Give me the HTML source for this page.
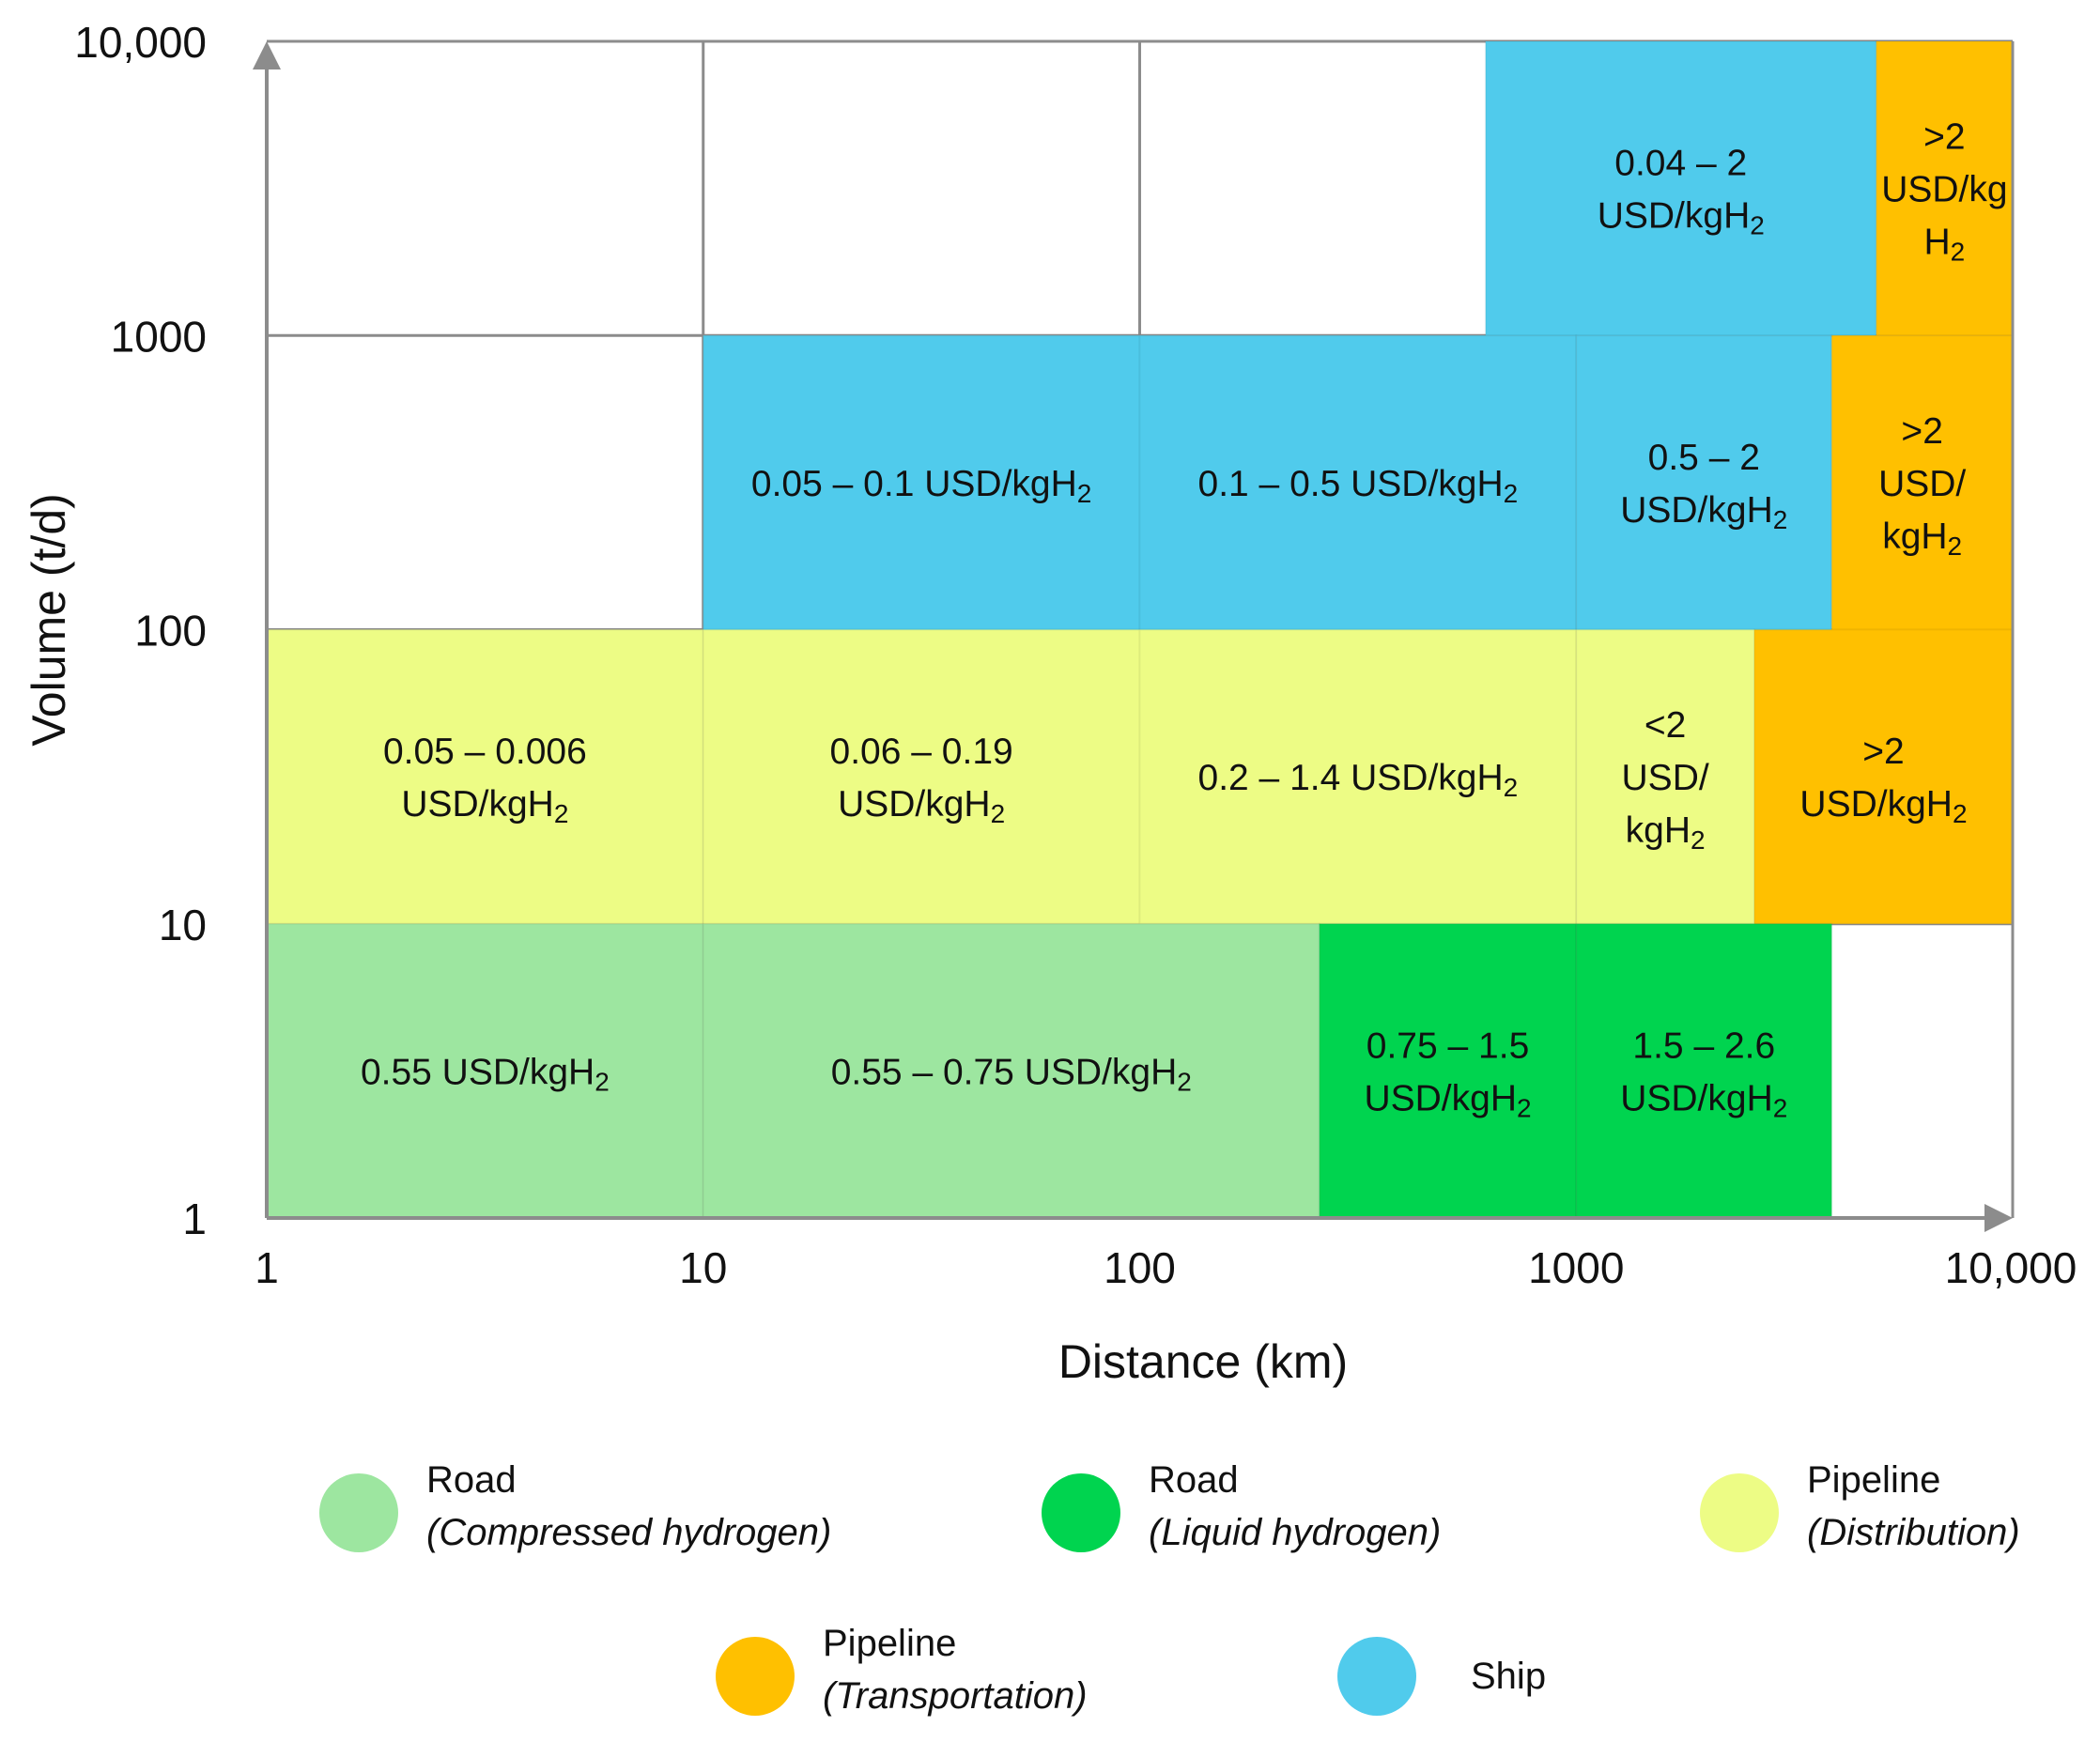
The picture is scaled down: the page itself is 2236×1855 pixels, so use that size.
<!DOCTYPE html>
<html><head><meta charset="utf-8"><style>
html,body{margin:0;padding:0;background:#fff;}
svg{display:block;font-family:"Liberation Sans",sans-serif;}
</style></head><body>
<svg id="chart" width="2236" height="1855" viewBox="0 0 2236 1855" xmlns="http://www.w3.org/2000/svg">
<g id="grid"></g>
<g id="cells"></g>
<g id="axes"></g>
<g id="labels"></g>
<g id="legend"></g>
</svg>
<script>
const xTicks=[1,10,100,1000,10000];
const xTickLabels=["1","10","100","1000","10,000"];
const yTicks=[1,10,100,1000,10000];
const yTickLabels=["1","10","100","1000","10,000"];
// cells: [xFrom, xTo, yFrom, yTo]
const cellRanges=[
 [620,4870,1000,10000],[4870,10000,1000,10000],
 [10,100,100,1000],[100,1000,100,1000],[1000,3850,100,1000],[3850,10000,100,1000],
 [1,10,10,100],[10,100,10,100],[100,1000,10,100],[1000,2560,10,100],[2560,10000,10,100],
 [1,10,1,10],[10,258,1,10],[258,1000,1,10],[1000,3850,1,10]
];
const cellModes=["ship","pipe-t","ship","ship","ship","pipe-t","pipe-d","pipe-d","pipe-d","pipe-d","pipe-t","road-c","road-c","road-l","road-l"];
const cellLabels=[
 ["0.04 – 2","USD/kgH₂"],[">2","USD/kg","H₂"],
 ["0.05 – 0.1 USD/kgH₂"],["0.1 – 0.5 USD/kgH₂"],["0.5 – 2","USD/kgH₂"],[">2","USD/","kgH₂"],
 ["0.05 – 0.006","USD/kgH₂"],["0.06 – 0.19","USD/kgH₂"],["0.2 – 1.4 USD/kgH₂"],["<2","USD/","kgH₂"],[">2","USD/kgH₂"],
 ["0.55 USD/kgH₂"],["0.55 – 0.75 USD/kgH₂"],["0.75 – 1.5","USD/kgH₂"],["1.5 – 2.6","USD/kgH₂"]
];
const modeKeys=["road-c","road-l","pipe-d","pipe-t","ship"];
const modeColors=["#9de6a0","#00d44f","#edfc85","#ffc000","#50cbec"];
const legendTitles=["Road","Road","Pipeline","Pipeline","Ship"];
const legendSubs=["(Compressed hydrogen)","(Liquid hydrogen)","(Distribution)","(Transportation)",""];

const NS="http://www.w3.org/2000/svg";
const X0=284,X1=2143,Y0=1297,Y1=44;
function sx(v){return X0+(Math.log10(v))/4*(X1-X0);}
function sy(v){return Y0-(Math.log10(v))/4*(Y0-Y1);}
function mk(tag,parent,attrs){const e=document.createElementNS(NS,tag);for(const k in attrs)e.setAttribute(k,attrs[k]);parent.appendChild(e);return e;}
function setText(t,str,subSize){
  const parts=str.split("₂");
  parts.forEach((p,i)=>{
    if(p){const s=mk("tspan",t,{});s.textContent=p;}
    if(i<parts.length-1){const s=mk("tspan",t,{"baseline-shift":"-25%","font-size":subSize});s.textContent="2";}
  });
}
const grid=document.getElementById("grid"),cells=document.getElementById("cells"),axes=document.getElementById("axes"),labels=document.getElementById("labels"),legend=document.getElementById("legend");
const gc="#8c8c8c";
yTicks.forEach((v,i)=>{if(i>0){const l=mk("line",grid,{x1:X0,x2:X1,y1:sy(v),y2:sy(v),stroke:gc,"stroke-width":3});

}});
xTicks.forEach((v,i)=>{if(i>0){const l=mk("line",grid,{x1:sx(v),x2:sx(v),y1:Y1,y2:Y0,stroke:gc,"stroke-width":3});

}});
cellRanges.forEach((c,i)=>{
  const col=modeColors[modeKeys.indexOf(cellModes[i])];
  const r=mk("rect",cells,{x:sx(c[0]),y:sy(c[3]),width:sx(c[1])-sx(c[0]),height:sy(c[2])-sy(c[3]),fill:col,stroke:"rgba(0,0,0,0.04)","stroke-width":2});
  
  
  const cx=(sx(c[0])+sx(c[1]))/2, cy=(sy(c[2])+sy(c[3]))/2;
  const lines=cellLabels[i], lh=56;
  lines.forEach((ln,j)=>{
    const t=mk("text",labels,{x:cx,y:cy+(j-(lines.length-1)/2)*lh+14,"text-anchor":"middle","font-size":39,fill:"#111"});
    
    
    setText(t,ln,28);
  });
});
const rb=mk("line",axes,{x1:X1,x2:X1,y1:Y1,y2:Y0,stroke:gc,"stroke-width":3});


const ya=mk("line",axes,{x1:X0,x2:X0,y1:Y0,y2:Y1+20,stroke:gc,"stroke-width":4});


const yar=mk("polygon",axes,{points:`${X0-15},${Y1+30} ${X0+15},${Y1+30} ${X0},${Y1}`,fill:gc});


const xa=mk("line",axes,{x1:X0,x2:X1-20,y1:Y0,y2:Y0,stroke:gc,"stroke-width":4});


const xar=mk("polygon",axes,{points:`${X1-30},${Y0-15} ${X1-30},${Y0+15} ${X1},${Y0}`,fill:gc});


xTicks.forEach((v,i)=>{
  const t=mk("text",axes,{x:sx(v)+(i==4?-2:0),y:1366,"text-anchor":"middle","font-size":46,fill:"#111"});
  
  
  t.textContent=xTickLabels[i];
});
yTicks.forEach((v,i)=>{
  const t=mk("text",axes,{x:220,y:sy(v)+17,"text-anchor":"end","font-size":46,fill:"#111"});
  
  
  t.textContent=yTickLabels[i];
});
const xt=mk("text",axes,{x:1281,y:1467,"text-anchor":"middle","font-size":50,fill:"#111"});


xt.textContent="Distance (km)";
const yt=mk("text",axes,{x:0,y:0,"text-anchor":"middle","font-size":50,fill:"#111",transform:"translate(69,660) rotate(-90)"});


yt.textContent="Volume (t/d)";
const legPos=[[382,1611],[1151,1611],[1852,1611],[804,1785],[1466,1785]];
modeKeys.forEach((k,i)=>{
  const g=mk("g",legend,{});
  
  
  const [cx,cy]=legPos[i];
  const c=mk("circle",g,{cx:cx,cy:cy,r:42,fill:modeColors[i]});
  
  
  if(legendSubs[i]){
    const t1=mk("text",g,{x:cx+72,y:cy-22,"font-size":40,fill:"#111"});
    
    
    t1.textContent=legendTitles[i];
    const t2=mk("text",g,{x:cx+72,y:cy+34,"font-size":40,fill:"#111","font-style":"italic"});
    
    
    t2.textContent=legendSubs[i];
  } else {
    const t1=mk("text",g,{x:cx+100,y:cy+13,"font-size":40,fill:"#111"});
    
    
    t1.textContent=legendTitles[i];
  }
});
</script>
</body></html>
